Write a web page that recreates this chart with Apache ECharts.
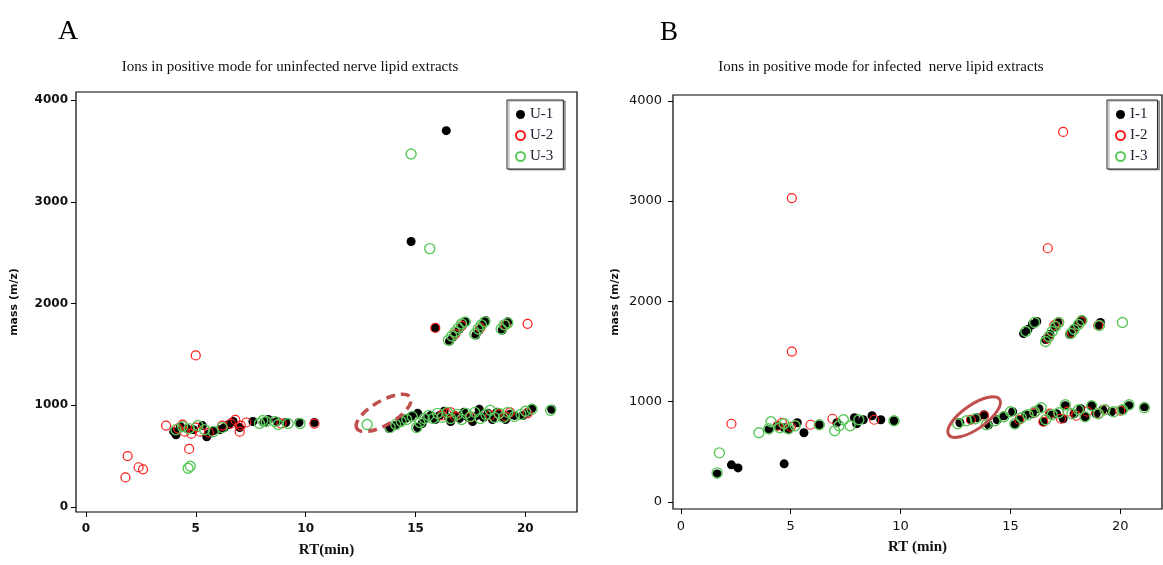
<!DOCTYPE html>
<html><head><meta charset="utf-8">
<script src="https://cdn.jsdelivr.net/npm/echarts@6/dist/echarts.min.js"></script>
<style>html,body{margin:0;padding:0;background:#fff}#c{width:1163px;height:565px}</style>
</head><body><div id="c"></div>
<script>
// ---------- data ----------
const xTicks = [0, 5, 10, 15, 20];
const yTicks = [0, 1000, 2000, 3000, 4000];
const panelLetters = ['A', 'B'];
const panelTitles = ['Ions in positive mode for uninfected nerve lipid extracts', 'Ions in positive mode for infected  nerve lipid extracts'];
const xNames = ['RT(min)', 'RT (min)'];
const yName = 'mass (m/z)';
const seriesNamesA = ['U-1', 'U-2', 'U-3'];
const seriesNamesB = ['I-1', 'I-2', 'I-3'];

const U1 = [[4.0,740],[4.1,710],[4.3,790],[4.6,770],[4.9,760],[5.3,800],[5.5,690],[5.6,720],[5.8,750],[6.1,760],[6.3,780],[6.5,810],[6.7,840],[7.0,780],[7.6,840],[8.1,830],[8.3,860],[8.7,840],[9.1,830],[9.7,830],[10.4,830],
  [14.8,2610],[16.4,3700],
  [15.9,1760],[16.55,1630],[16.7,1670],[16.85,1710],[17.0,1750],[17.15,1790],[17.3,1820],[17.75,1690],[17.9,1740],[18.05,1790],[18.2,1830],[18.95,1740],[19.1,1790],[19.2,1820],
  [13.8,770],[14.1,800],[14.3,840],[14.55,870],[14.8,890],[15.1,920],[15.1,780],[15.3,820],[15.5,870],[15.7,900],[15.9,860],[16.1,900],[16.3,940],[16.5,880],[16.6,840],[16.8,900],[17.0,870],[17.2,930],[17.4,880],[17.6,840],[17.8,900],[17.9,960],[18.1,880],[18.3,920],[18.5,860],[18.7,930],[18.9,890],[19.1,860],[19.3,910],[19.5,900],[19.9,900],[20.1,930],[20.3,970],[21.2,960]];
const U2 = [[1.8,290],[1.9,500],[2.4,390],[2.6,370],[3.65,800],[4.7,570],[5.0,1490],[20.1,1800],
  [4.2,770],[4.4,810],[4.5,740],[4.8,720],[5.0,780],[5.2,740],[5.6,730],[6.2,800],[6.6,820],[6.8,855],[7.0,740],[7.05,800],[7.3,830],[8.9,820],[10.4,820],
  [15.9,1760],[16.8,1700],[17.1,1780],[17.95,1760],[19.1,1790],
  [16.2,900],[16.4,920],[16.6,930],[16.8,890],[17.5,880],[18.4,900],[18.8,910],[19.1,890],[19.3,930],[20.1,920]];
const U3 = [[4.65,380],[4.75,400],[12.8,810],[14.8,3470],[15.65,2540],
  [4.1,760],[4.4,790],[4.7,770],[5.1,800],[5.4,760],[5.8,740],[6.2,780],[7.9,820],[8.05,850],[8.2,840],[8.6,840],[8.75,810],[9.2,820],[9.75,820],
  [16.5,1640],[16.65,1680],[16.8,1720],[16.95,1760],[17.1,1800],[17.25,1820],[17.7,1700],[17.85,1750],[18.0,1790],[18.15,1820],[18.9,1750],[19.05,1790],[19.2,1810],
  [13.85,780],[14.1,810],[14.35,840],[14.6,860],[14.85,890],[15.05,780],[15.2,830],[15.4,870],[15.6,900],[15.8,870],[16.0,920],[16.2,880],[16.45,930],[16.6,870],[16.9,910],[17.1,860],[17.3,920],[17.5,890],[17.7,930],[17.95,870],[18.2,910],[18.4,950],[18.6,880],[18.8,920],[19.0,880],[19.2,930],[19.5,890],[19.8,910],[20.0,940],[20.3,960],[21.15,950]];

const I1 = [[1.65,280],[2.3,370],[2.6,340],[4.7,380],
  [4.0,720],[4.4,760],[4.7,740],[4.9,720],[5.3,790],[5.6,690],[6.3,770],[7.1,790],[7.9,840],[8.0,780],[8.3,820],[8.7,860],[9.1,820],[9.7,810],
  [15.6,1680],[15.8,1720],[16.0,1770],[16.2,1800],[16.6,1620],[16.8,1670],[17.0,1740],[17.15,1790],[17.7,1670],[17.9,1730],[18.1,1780],[18.25,1810],[19.0,1760],[19.1,1790],
  [12.7,790],[13.2,820],[13.5,840],[13.8,870],[14.0,770],[14.4,820],[14.7,860],[15.1,900],[15.2,770],[15.4,820],[15.7,870],[16.0,880],[16.3,930],[16.5,800],[16.8,870],[17.1,880],[17.4,830],[17.5,960],[17.9,880],[18.2,930],[18.4,850],[18.7,960],[18.9,880],[19.2,920],[19.6,900],[20.1,920],[20.4,960],[21.1,950]];
const I2 = [[2.3,780],[5.05,3030],[5.05,1500],[16.7,2530],[17.4,3690],
  [4.4,760],[4.6,790],[5.0,750],[5.9,770],[6.9,830],[8.8,820],
  [16.7,1630],[17.0,1760],[17.2,1790],[17.8,1690],[18.2,1800],[19.0,1760],
  [13.2,820],[13.8,860],[15.4,820],[16.1,890],[16.5,800],[16.8,880],[17.3,830],[17.6,900],[18.0,860],[18.5,900],[19.0,880],[19.3,920],[20.0,910]];
const I3 = [[1.75,490],[1.65,290],[20.1,1790],
  [3.55,690],[4.0,730],[4.1,800],[4.5,740],[4.7,780],[4.9,730],[5.2,760],[6.3,770],[7.0,710],[7.2,760],[7.4,820],[7.7,760],[8.1,820],[9.7,810],
  [15.7,1700],[16.1,1790],[16.6,1600],[16.75,1650],[16.9,1700],[17.05,1750],[17.2,1790],[17.75,1680],[17.9,1720],[18.1,1770],[18.25,1810],[19.05,1760],
  [12.6,780],[13.0,810],[13.4,830],[13.9,770],[14.3,810],[14.7,850],[15.0,900],[15.2,780],[15.5,840],[15.8,870],[16.1,900],[16.4,940],[16.6,820],[16.9,870],[17.2,890],[17.5,970],[17.8,880],[18.1,920],[18.4,850],[18.7,960],[19.0,880],[19.3,920],[19.7,900],[20.1,920],[20.4,970],[21.1,940]];

// annotation ellipse centres (data coords)
const ellipseA = [13.55, 924];
const ellipseB = [13.35, 847];

// ---------- chart ----------
const chart = echarts.init(document.getElementById('c'), null, {renderer: 'canvas'});
const RED = '#ff1a1a', GREEN = '#5cc85c', BLACK = '#000';
const serif = 'Liberation Serif';

function styleFor(i) {
  if (i === 0) return {symbolSize: 9, itemStyle: {color: BLACK, borderColor: BLACK, borderWidth: 0, opacity: 1}};
  if (i === 1) return {symbolSize: 9, itemStyle: {color: 'rgba(255,255,255,0)', borderColor: RED, borderWidth: 1.2, opacity: 1}};
  return {symbolSize: 10, itemStyle: {color: 'rgba(255,255,255,0)', borderColor: GREEN, borderWidth: 1.4, opacity: 1}};
}
function mkSeries(name, data, idx, gi) {
  const s = styleFor(idx);
  return {type: 'scatter', name, data, xAxisIndex: gi, yAxisIndex: gi, symbol: 'circle',
    symbolSize: s.symbolSize, itemStyle: s.itemStyle, emphasis: {disabled: true}, animation: false};
}
const plain = v => String(v);
function xAx(gi, min, max, bold, name) {
  return {type: 'value', gridIndex: gi, min, max, splitLine: {show: false},
    axisLine: {show: false, onZero: false}, axisTick: {show: true, length: 5, customValues: xTicks, lineStyle: {color: '#000'}},
    axisLabel: {customValues: xTicks, formatter: plain, margin: 11, color: '#111', fontFamily: 'DejaVu Sans', fontSize: bold ? 12 : 13, fontWeight: bold ? 'bold' : 'normal'},
    name, nameLocation: 'middle', nameGap: 31,
    nameTextStyle: {fontFamily: serif, fontWeight: 'bold', fontSize: 15, color: '#111'}};
}
function yAx(gi, min, max, bold, gap, margin) {
  return {type: 'value', gridIndex: gi, min, max, splitLine: {show: false},
    axisLine: {show: false, onZero: false}, axisTick: {show: true, length: 5, customValues: yTicks, lineStyle: {color: '#000'}},
    axisLabel: {customValues: yTicks, formatter: plain, margin, color: '#111', fontFamily: 'DejaVu Sans', fontSize: bold ? 12 : 13, fontWeight: bold ? 'bold' : 'normal'},
    name: yName, nameLocation: 'middle', nameGap: gap, nameRotate: 90,
    nameTextStyle: {fontFamily: 'DejaVu Sans', fontWeight: 'bold', fontSize: 11, color: '#111'}};
}
function legendAt(left, top, names) {
  return {data: names, orient: 'vertical', left, top, padding: [7, 10, 5, 8], itemGap: 6,
    itemWidth: 9, itemHeight: 11, borderColor: '#222', borderWidth: 1, backgroundColor: '#fff',
    shadowColor: 'rgba(0,0,0,0.35)', shadowOffsetX: 2, shadowOffsetY: 1, shadowBlur: 0,
    textStyle: {fontFamily: serif, fontSize: 15, color: '#223'}, selectedMode: false};
}

chart.setOption({
  animation: false,
  grid: [
    {left: 76, top: 92, width: 501, height: 420, show: true, borderColor: '#000', borderWidth: 1.2, backgroundColor: '#fff'},
    {left: 673, top: 95, width: 489, height: 414, show: true, borderColor: '#000', borderWidth: 1.2, backgroundColor: '#fff'}
  ],
  xAxis: [xAx(0, -0.45, 22.35, true, xNames[0]), xAx(1, -0.36, 21.9, false, xNames[1])],
  yAxis: [yAx(0, -50, 4080, true, 56, 8), yAx(1, -70, 4058, false, 52, 11)],
  legend: [legendAt(507, 100, seriesNamesA), legendAt(1107, 100, seriesNamesB)],
  series: [
    mkSeries(seriesNamesA[0], U1, 0, 0), mkSeries(seriesNamesA[1], U2, 1, 0), mkSeries(seriesNamesA[2], U3, 2, 0),
    mkSeries(seriesNamesB[0], I1, 0, 1), mkSeries(seriesNamesB[1], I2, 1, 1), mkSeries(seriesNamesB[2], I3, 2, 1)
  ]
});

const pA = chart.convertToPixel({gridIndex: 0}, ellipseA);
const pB = chart.convertToPixel({gridIndex: 1}, ellipseB);
chart.setOption({
  graphic: [
    {type: 'text', left: 58, top: 18, style: {text: panelLetters[0], font: '28px "Liberation Serif"', fill: '#000'}},
    {type: 'text', left: 660, top: 19, style: {text: panelLetters[1], font: '27px "Liberation Serif"', fill: '#000'}},
    {type: 'text', x: 290, y: 67, style: {text: panelTitles[0], font: '15px "Liberation Serif"', fill: '#111', align: 'center', verticalAlign: 'middle'}},
    {type: 'text', x: 881, y: 67, style: {text: panelTitles[1], font: '15px "Liberation Serif"', fill: '#111', align: 'center', verticalAlign: 'middle'}},
    {type: 'ellipse', x: pA[0], y: pA[1], rotation: Math.PI / 180 * 30, shape: {cx: 0, cy: 0, rx: 31, ry: 12},
      style: {fill: 'none', stroke: '#c0504d', lineWidth: 3.5, lineDash: [9, 6]}, z: 100},
    {type: 'ellipse', x: pB[0], y: pB[1], rotation: Math.PI / 180 * 35, shape: {cx: 0, cy: 0, rx: 31, ry: 12},
      style: {fill: 'none', stroke: '#c0504d', lineWidth: 3}, z: 100}
  ]
});
</script></body></html>
